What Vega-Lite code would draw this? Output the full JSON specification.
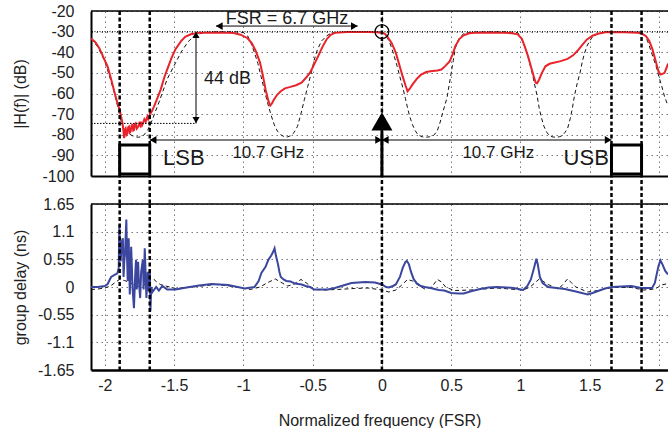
{
  "$schema": "https://vega.github.io/schema/vega-lite/v6.json",
  "padding": {"left": 11, "top": 3, "right": 0, "bottom": 0},
  "autosize": {"type": "pad"},
  "background": "white",
  "spacing": 28,
  "bounds": "flush",
  "config": {
    "font": "Liberation Sans",
    "view": {"stroke": null},
    "axis": {"labelFont": "Liberation Sans", "titleFont": "Liberation Sans", "labelFontSize": 16, "titleFontSize": 16, "labelColor": "#222", "titleColor": "#222", "titleFontWeight": "normal", "gridColor": "#777", "gridDash": [1.5, 3.5], "gridWidth": 1, "gridOpacity": 1, "ticks": false, "tickSize": 0, "domainColor": "#000", "domainWidth": 2, "labelFlush": false, "labelOverlap": false}
  },
  "datasets": {
    "mag_meas": [
      {"f":-2.10,"db":-33.4},{"f":-2.07,"db":-35},{"f":-2.04,"db":-38},{"f":-2.01,"db":-42.5},{"f":-1.98,"db":-47},{"f":-1.955,"db":-53},{"f":-1.93,"db":-59.5},{"f":-1.91,"db":-64.5},{"f":-1.895,"db":-67.5},{"f":-1.885,"db":-70.5},{"f":-1.873,"db":-74.3},{"f":-1.866,"db":-78},{"f":-1.861,"db":-81.6},{"f":-1.856,"db":-77.5},{"f":-1.85,"db":-76.9},{"f":-1.844,"db":-80},{"f":-1.838,"db":-79.4},{"f":-1.832,"db":-76.5},{"f":-1.826,"db":-76.1},{"f":-1.82,"db":-79},{"f":-1.814,"db":-78.5},{"f":-1.807,"db":-75.5},{"f":-1.80,"db":-75.2},{"f":-1.795,"db":-78},{"f":-1.79,"db":-77.8},{"f":-1.784,"db":-75},{"f":-1.778,"db":-74.5},{"f":-1.77,"db":-77},{"f":-1.76,"db":-76.1},{"f":-1.752,"db":-74.5},{"f":-1.745,"db":-75.5},{"f":-1.74,"db":-73.7},{"f":-1.732,"db":-75.5},{"f":-1.725,"db":-74.5},{"f":-1.715,"db":-72.5},{"f":-1.705,"db":-73.7},{"f":-1.698,"db":-72},{"f":-1.693,"db":-71.1},{"f":-1.686,"db":-72.5},{"f":-1.68,"db":-71.9},{"f":-1.674,"db":-69.5},{"f":-1.669,"db":-69.5},{"f":-1.66,"db":-68.5},{"f":-1.645,"db":-66.2},{"f":-1.62,"db":-62.1},{"f":-1.597,"db":-58.1},{"f":-1.57,"db":-52},{"f":-1.545,"db":-47.5},{"f":-1.52,"db":-43},{"f":-1.49,"db":-38.5},{"f":-1.45,"db":-34.6},{"f":-1.42,"db":-32.5},{"f":-1.38,"db":-31.3},{"f":-1.32,"db":-30.6},{"f":-1.26,"db":-30.5},{"f":-1.15,"db":-30.4},{"f":-1.07,"db":-30.7},{"f":-1.02,"db":-31.5},{"f":-0.97,"db":-33.2},{"f":-0.94,"db":-35.5},{"f":-0.91,"db":-39.5},{"f":-0.88,"db":-45},{"f":-0.86,"db":-51},{"f":-0.84,"db":-58},{"f":-0.82,"db":-63.5},{"f":-0.806,"db":-65.9},{"f":-0.795,"db":-65},{"f":-0.78,"db":-63},{"f":-0.755,"db":-60.5},{"f":-0.73,"db":-58.9},{"f":-0.70,"db":-57.5},{"f":-0.66,"db":-56.8},{"f":-0.62,"db":-56},{"f":-0.58,"db":-54.8},{"f":-0.55,"db":-52.5},{"f":-0.52,"db":-50},{"f":-0.49,"db":-46},{"f":-0.46,"db":-41.9},{"f":-0.43,"db":-37.5},{"f":-0.40,"db":-33.8},{"f":-0.37,"db":-31.5},{"f":-0.34,"db":-30.6},{"f":-0.25,"db":-30.2},{"f":-0.1,"db":-30.2},{"f":-0.04,"db":-30.3},{"f":0.0,"db":-30.5},{"f":0.02,"db":-31},{"f":0.04,"db":-32.5},{"f":0.07,"db":-35.5},{"f":0.10,"db":-40.2},{"f":0.125,"db":-46},{"f":0.149,"db":-51.6},{"f":0.17,"db":-56},{"f":0.185,"db":-58.9},{"f":0.2,"db":-57.8},{"f":0.22,"db":-55.7},{"f":0.25,"db":-53},{"f":0.28,"db":-51},{"f":0.32,"db":-49.6},{"f":0.35,"db":-49.2},{"f":0.40,"db":-48.8},{"f":0.43,"db":-48.4},{"f":0.46,"db":-46.5},{"f":0.49,"db":-44.3},{"f":0.51,"db":-41},{"f":0.53,"db":-37},{"f":0.56,"db":-33.5},{"f":0.59,"db":-31.8},{"f":0.63,"db":-30.8},{"f":0.67,"db":-30.5},{"f":0.8,"db":-30.4},{"f":0.88,"db":-30.5},{"f":0.94,"db":-30.8},{"f":0.98,"db":-31.3},{"f":1.01,"db":-33.5},{"f":1.03,"db":-37},{"f":1.055,"db":-42},{"f":1.075,"db":-46.8},{"f":1.095,"db":-51.5},{"f":1.11,"db":-54.8},{"f":1.12,"db":-55},{"f":1.135,"db":-53.2},{"f":1.155,"db":-50},{"f":1.18,"db":-46.8},{"f":1.21,"db":-45.6},{"f":1.24,"db":-45.1},{"f":1.29,"db":-44.3},{"f":1.34,"db":-43.2},{"f":1.38,"db":-41.5},{"f":1.41,"db":-39.4},{"f":1.445,"db":-36.5},{"f":1.48,"db":-33.8},{"f":1.52,"db":-32},{"f":1.56,"db":-31},{"f":1.62,"db":-30.2},{"f":1.75,"db":-30.3},{"f":1.845,"db":-30.5},{"f":1.88,"db":-31.2},{"f":1.905,"db":-32.1},{"f":1.93,"db":-34.5},{"f":1.953,"db":-38.6},{"f":1.975,"db":-44},{"f":1.995,"db":-49},{"f":2.01,"db":-50.8},{"f":2.025,"db":-50.5},{"f":2.04,"db":-50},{"f":2.055,"db":-47.5},{"f":2.065,"db":-45.5}
    ],
    "mag_sim": [
      {"f":-2.10,"db":-33.4},{"f":-2.05,"db":-37.5},{"f":-2.00,"db":-44.5},{"f":-1.96,"db":-53},{"f":-1.93,"db":-60},{"f":-1.905,"db":-67},{"f":-1.885,"db":-73.5},{"f":-1.86,"db":-77},{"f":-1.84,"db":-78.6},{"f":-1.81,"db":-80.2},{"f":-1.78,"db":-81},{"f":-1.755,"db":-81.2},{"f":-1.73,"db":-80.8},{"f":-1.71,"db":-79.5},{"f":-1.69,"db":-77.6},{"f":-1.675,"db":-75.5},{"f":-1.657,"db":-72.7},{"f":-1.64,"db":-69.5},{"f":-1.62,"db":-66.2},{"f":-1.6,"db":-62.5},{"f":-1.585,"db":-59.7},{"f":-1.55,"db":-53},{"f":-1.5,"db":-46.5},{"f":-1.45,"db":-40},{"f":-1.40,"db":-35},{"f":-1.36,"db":-32.3},{"f":-1.33,"db":-31.3},{"f":-1.28,"db":-30.4},{"f":-1.2,"db":-30.1},{"f":-1.05,"db":-30.1},{"f":-1.0,"db":-30.5},{"f":-0.969,"db":-32.1},{"f":-0.945,"db":-35.5},{"f":-0.92,"db":-40.2},{"f":-0.895,"db":-45.5},{"f":-0.873,"db":-51.6},{"f":-0.85,"db":-58},{"f":-0.825,"db":-64.6},{"f":-0.80,"db":-70.5},{"f":-0.777,"db":-75.2},{"f":-0.755,"db":-78.2},{"f":-0.73,"db":-80},{"f":-0.70,"db":-81.2},{"f":-0.68,"db":-81},{"f":-0.66,"db":-80.5},{"f":-0.635,"db":-79},{"f":-0.61,"db":-76},{"f":-0.585,"db":-70},{"f":-0.56,"db":-63},{"f":-0.535,"db":-56.5},{"f":-0.51,"db":-50},{"f":-0.49,"db":-44},{"f":-0.465,"db":-38.6},{"f":-0.435,"db":-34.5},{"f":-0.40,"db":-32.1},{"f":-0.37,"db":-30.9},{"f":-0.34,"db":-30.5},{"f":-0.2,"db":-30.1},{"f":-0.02,"db":-30.2},{"f":0.017,"db":-30.8},{"f":0.04,"db":-33},{"f":0.06,"db":-36},{"f":0.085,"db":-41},{"f":0.11,"db":-46.8},{"f":0.13,"db":-52},{"f":0.15,"db":-57},{"f":0.17,"db":-62.5},{"f":0.185,"db":-67},{"f":0.20,"db":-71},{"f":0.22,"db":-75},{"f":0.24,"db":-78},{"f":0.26,"db":-80},{"f":0.29,"db":-81},{"f":0.317,"db":-81.2},{"f":0.345,"db":-81},{"f":0.37,"db":-80.5},{"f":0.39,"db":-79},{"f":0.40,"db":-78},{"f":0.42,"db":-74},{"f":0.44,"db":-69},{"f":0.455,"db":-65.5},{"f":0.47,"db":-62},{"f":0.485,"db":-56},{"f":0.50,"db":-50},{"f":0.515,"db":-44},{"f":0.53,"db":-38},{"f":0.545,"db":-35},{"f":0.56,"db":-33},{"f":0.59,"db":-31},{"f":0.65,"db":-30.2},{"f":0.9,"db":-30.1},{"f":0.98,"db":-30.5},{"f":1.005,"db":-33},{"f":1.03,"db":-37},{"f":1.05,"db":-41},{"f":1.065,"db":-45},{"f":1.085,"db":-50},{"f":1.10,"db":-55},{"f":1.12,"db":-61},{"f":1.135,"db":-67},{"f":1.15,"db":-71.5},{"f":1.17,"db":-76},{"f":1.19,"db":-78.8},{"f":1.21,"db":-80.5},{"f":1.235,"db":-81.1},{"f":1.255,"db":-81.2},{"f":1.28,"db":-81},{"f":1.30,"db":-80.5},{"f":1.32,"db":-79},{"f":1.34,"db":-77},{"f":1.36,"db":-72},{"f":1.375,"db":-67},{"f":1.39,"db":-61},{"f":1.41,"db":-55},{"f":1.43,"db":-50},{"f":1.445,"db":-45},{"f":1.46,"db":-41},{"f":1.48,"db":-37},{"f":1.50,"db":-34.5},{"f":1.52,"db":-32.5},{"f":1.56,"db":-31},{"f":1.62,"db":-30.2},{"f":1.85,"db":-30.2},{"f":1.88,"db":-30.6},{"f":1.90,"db":-32},{"f":1.92,"db":-35},{"f":1.94,"db":-39},{"f":1.96,"db":-43},{"f":1.98,"db":-47},{"f":2.0,"db":-52},{"f":2.02,"db":-56.5},{"f":2.04,"db":-61.5},{"f":2.065,"db":-66}
    ],
    "gd_meas": [
      {"f":-2.10,"gd":0.0},{"f":-2.05,"gd":0.0},{"f":-2.0,"gd":0.02},{"f":-1.98,"gd":0.06},{"f":-1.955,"gd":0.2},{"f":-1.93,"gd":0.24},{"f":-1.91,"gd":0.27},{"f":-1.90,"gd":0.38},{"f":-1.895,"gd":1.24},{"f":-1.89,"gd":0.6},{"f":-1.886,"gd":0.51},{"f":-1.878,"gd":0.9},{"f":-1.87,"gd":0.97},{"f":-1.865,"gd":0.2},{"f":-1.86,"gd":0.5},{"f":-1.855,"gd":0.64},{"f":-1.845,"gd":1.34},{"f":-1.84,"gd":0.6},{"f":-1.835,"gd":0.12},{"f":-1.828,"gd":0.97},{"f":-1.82,"gd":-0.15},{"f":-1.81,"gd":0.8},{"f":-1.80,"gd":-0.02},{"f":-1.79,"gd":-0.42},{"f":-1.78,"gd":0.3},{"f":-1.775,"gd":0.54},{"f":-1.77,"gd":-0.05},{"f":-1.76,"gd":0.5},{"f":-1.755,"gd":0.15},{"f":-1.745,"gd":-0.22},{"f":-1.738,"gd":0.3},{"f":-1.726,"gd":0.54},{"f":-1.72,"gd":-0.05},{"f":-1.712,"gd":0.77},{"f":-1.70,"gd":-0.22},{"f":-1.69,"gd":0.3},{"f":-1.685,"gd":-0.08},{"f":-1.675,"gd":0.35},{"f":-1.671,"gd":-0.48},{"f":-1.665,"gd":0.0},{"f":-1.656,"gd":-0.1},{"f":-1.63,"gd":0.0},{"f":-1.61,"gd":-0.07},{"f":-1.585,"gd":0.02},{"f":-1.55,"gd":-0.05},{"f":-1.49,"gd":-0.05},{"f":-1.41,"gd":-0.01},{"f":-1.32,"gd":0.03},{"f":-1.23,"gd":0.06},{"f":-1.11,"gd":0.04},{"f":-0.99,"gd":-0.03},{"f":-0.92,"gd":0.0},{"f":-0.89,"gd":0.12},{"f":-0.87,"gd":0.28},{"f":-0.84,"gd":0.4},{"f":-0.82,"gd":0.54},{"f":-0.80,"gd":0.62},{"f":-0.785,"gd":0.7},{"f":-0.775,"gd":0.77},{"f":-0.765,"gd":0.62},{"f":-0.75,"gd":0.45},{"f":-0.74,"gd":0.3},{"f":-0.73,"gd":0.2},{"f":-0.71,"gd":0.15},{"f":-0.69,"gd":0.12},{"f":-0.66,"gd":0.11},{"f":-0.63,"gd":0.07},{"f":-0.6,"gd":0.06},{"f":-0.58,"gd":0.05},{"f":-0.55,"gd":0.02},{"f":-0.52,"gd":0.0},{"f":-0.49,"gd":-0.05},{"f":-0.44,"gd":-0.05},{"f":-0.39,"gd":-0.05},{"f":-0.34,"gd":-0.02},{"f":-0.28,"gd":0.03},{"f":-0.22,"gd":0.08},{"f":-0.12,"gd":0.1},{"f":-0.05,"gd":0.09},{"f":0.0,"gd":0.05},{"f":0.03,"gd":0.0},{"f":0.05,"gd":-0.01},{"f":0.08,"gd":0.02},{"f":0.1,"gd":0.05},{"f":0.13,"gd":0.2},{"f":0.15,"gd":0.38},{"f":0.17,"gd":0.5},{"f":0.18,"gd":0.52},{"f":0.195,"gd":0.45},{"f":0.21,"gd":0.3},{"f":0.23,"gd":0.15},{"f":0.25,"gd":0.08},{"f":0.28,"gd":0.02},{"f":0.31,"gd":0.0},{"f":0.35,"gd":-0.02},{"f":0.41,"gd":-0.06},{"f":0.45,"gd":-0.07},{"f":0.5,"gd":-0.12},{"f":0.55,"gd":-0.13},{"f":0.59,"gd":-0.13},{"f":0.65,"gd":-0.08},{"f":0.71,"gd":-0.04},{"f":0.77,"gd":-0.01},{"f":0.83,"gd":0.0},{"f":0.9,"gd":-0.01},{"f":0.95,"gd":-0.02},{"f":1.02,"gd":-0.06},{"f":1.05,"gd":0.02},{"f":1.075,"gd":0.15},{"f":1.095,"gd":0.35},{"f":1.115,"gd":0.56},{"f":1.125,"gd":0.45},{"f":1.14,"gd":0.2},{"f":1.16,"gd":0.08},{"f":1.2,"gd":0.0},{"f":1.26,"gd":-0.02},{"f":1.32,"gd":-0.04},{"f":1.4,"gd":-0.09},{"f":1.485,"gd":-0.15},{"f":1.52,"gd":-0.12},{"f":1.56,"gd":-0.08},{"f":1.61,"gd":-0.03},{"f":1.66,"gd":0.0},{"f":1.73,"gd":0.01},{"f":1.8,"gd":0.02},{"f":1.87,"gd":-0.02},{"f":1.95,"gd":-0.02},{"f":1.97,"gd":0.08},{"f":1.98,"gd":0.21},{"f":1.995,"gd":0.4},{"f":2.01,"gd":0.53},{"f":2.025,"gd":0.45},{"f":2.045,"gd":0.32},{"f":2.065,"gd":0.25}
    ],
    "gd_sim": [
      {"f":-2.10,"gd":-0.05},{"f":-2.05,"gd":-0.04},{"f":-2.0,"gd":-0.02},{"f":-1.96,"gd":0.02},{"f":-1.93,"gd":0.08},{"f":-1.895,"gd":0.15},{"f":-1.86,"gd":0.13},{"f":-1.83,"gd":0.1},{"f":-1.8,"gd":0.06},{"f":-1.78,"gd":0.03},{"f":-1.74,"gd":0.0},{"f":-1.71,"gd":0.06},{"f":-1.685,"gd":0.13},{"f":-1.665,"gd":0.17},{"f":-1.645,"gd":0.15},{"f":-1.63,"gd":0.11},{"f":-1.6,"gd":0.05},{"f":-1.56,"gd":0.02},{"f":-1.49,"gd":-0.03},{"f":-1.4,"gd":-0.01},{"f":-1.3,"gd":0.02},{"f":-1.2,"gd":0.05},{"f":-1.1,"gd":0.02},{"f":-0.95,"gd":-0.05},{"f":-0.88,"gd":0.0},{"f":-0.83,"gd":0.08},{"f":-0.77,"gd":0.16},{"f":-0.72,"gd":0.08},{"f":-0.68,"gd":0.02},{"f":-0.64,"gd":0.05},{"f":-0.584,"gd":0.15},{"f":-0.54,"gd":0.07},{"f":-0.49,"gd":-0.05},{"f":-0.42,"gd":-0.06},{"f":-0.33,"gd":-0.05},{"f":-0.2,"gd":-0.03},{"f":-0.1,"gd":-0.02},{"f":0.0,"gd":-0.06},{"f":0.05,"gd":-0.1},{"f":0.1,"gd":-0.06},{"f":0.14,"gd":0.03},{"f":0.185,"gd":0.15},{"f":0.22,"gd":0.12},{"f":0.26,"gd":0.04},{"f":0.31,"gd":-0.04},{"f":0.36,"gd":0.0},{"f":0.40,"gd":0.15},{"f":0.43,"gd":0.1},{"f":0.46,"gd":0.0},{"f":0.52,"gd":-0.07},{"f":0.64,"gd":-0.06},{"f":0.83,"gd":-0.02},{"f":0.97,"gd":-0.05},{"f":1.02,"gd":-0.06},{"f":1.07,"gd":0.0},{"f":1.136,"gd":0.16},{"f":1.2,"gd":0.05},{"f":1.27,"gd":-0.04},{"f":1.30,"gd":0.03},{"f":1.34,"gd":0.16},{"f":1.37,"gd":0.08},{"f":1.40,"gd":0.0},{"f":1.485,"gd":-0.1},{"f":1.56,"gd":-0.07},{"f":1.66,"gd":-0.01},{"f":1.8,"gd":-0.01},{"f":1.89,"gd":-0.06},{"f":1.97,"gd":-0.04},{"f":2.02,"gd":0.04},{"f":2.065,"gd":0.07}
    ],
    "markers": [{"f":-1.893},{"f":-1.676},{"f":0},{"f":1.657},{"f":1.874}]
  },
  "vconcat": [
    {
      "width": 577,
      "height": 165,
      "layer": [
        {
          "data": {"name": "mag_sim"},
          "mark": {"type": "line", "color": "#111", "strokeWidth": 1, "strokeDash": [4, 3], "clip": true},
          "encoding": {
            "x": {"field": "f", "type": "quantitative", "scale": {"domain": [-2.1, 2.065], "nice": false, "zero": false},
                  "axis": {"values": [-2, -1.5, -1, -0.5, 0, 0.5, 1, 1.5, 2], "tickCount": 30, "labels": false, "title": null, "grid": true, "domainWidth": 2, "labelOverlap": false}},
            "y": {"field": "db", "type": "quantitative", "scale": {"domain": [-100, -20], "nice": false, "zero": false},
                  "axis": {"values": [-100, -90, -80, -70, -60, -50, -40, -30, -20], "tickCount": 30, "labelExpr": "'' + datum.value", "title": "|H(f)| (dB)", "titleX": -63, "labelPadding": 17, "grid": true, "labelOverlap": false}}
          }
        },
        {
          "data": {"name": "mag_meas"},
          "mark": {"type": "line", "color": "#e8232a", "strokeWidth": 2, "clip": true},
          "encoding": {"x": {"field": "f", "type": "quantitative"}, "y": {"field": "db", "type": "quantitative"}}
        },
        {
          "data": {"values": [{}]},
          "mark": {"type": "rule", "color": "#000", "strokeWidth": 1, "strokeDash": [1, 1.5]},
          "encoding": {"y": {"datum": -30}}
        },
        {
          "data": {"values": [{}]},
          "mark": {"type": "rule", "color": "#000", "strokeWidth": 1, "strokeDash": [1.5, 1.5]},
          "encoding": {"x": {"datum": -2.1}, "x2": {"datum": -1.342}, "y": {"datum": -74.5}}
        },
        {
          "data": {"values": [{}]},
          "mark": {"type": "rule", "color": "#000", "strokeWidth": 1.5},
          "encoding": {"y": {"datum": -20}}
        },
        {
          "data": {"name": "markers"},
          "mark": {"type": "rule", "color": "#000", "strokeWidth": 2.5, "strokeDash": [4, 2.5]},
          "encoding": {"x": {"field": "f", "type": "quantitative"}, "y": {"datum": -20}, "y2": {"datum": -113.6}}
        },
        {
          "data": {"values": [{"a": -1.676, "b": 0}, {"a": 0, "b": 1.657}]},
          "mark": {"type": "rule", "color": "#555", "strokeWidth": 1.5},
          "encoding": {"x": {"field": "a", "type": "quantitative"}, "x2": {"field": "b"}, "y": {"datum": -82.5}}
        },
        {
          "data": {"values": [{"x1": -1.198, "x2": -0.175, "y1": -27.3, "y2": -27.3}, {"x1": -1.342, "x2": -1.342, "y1": -30, "y2": -74.5}]},
          "mark": {"type": "rule", "color": "#000", "strokeWidth": 1},
          "encoding": {"x": {"field": "x1", "type": "quantitative"}, "x2": {"field": "x2"}, "y": {"field": "y1", "type": "quantitative"}, "y2": {"field": "y2"}}
        },
        {
          "data": {"values": [{"f": -1.652, "db": -82.5}, {"f": 0.024, "db": -82.5}, {"f": -1.174, "db": -27.3}]},
          "mark": {"type": "point", "shape": "triangle-left", "filled": true, "color": "#000", "opacity": 1, "size": 60},
          "encoding": {"x": {"field": "f", "type": "quantitative"}, "y": {"field": "db", "type": "quantitative"}}
        },
        {
          "data": {"values": [{"f": -0.024, "db": -82.5}, {"f": 1.633, "db": -82.5}, {"f": -0.199, "db": -27.3}]},
          "mark": {"type": "point", "shape": "triangle-right", "filled": true, "color": "#000", "opacity": 1, "size": 60},
          "encoding": {"x": {"field": "f", "type": "quantitative"}, "y": {"field": "db", "type": "quantitative"}}
        },
        {
          "data": {"values": [{"f": -1.342, "db": -31.6}]},
          "mark": {"type": "point", "shape": "triangle-up", "filled": true, "color": "#000", "opacity": 1, "size": 50},
          "encoding": {"x": {"field": "f", "type": "quantitative"}, "y": {"field": "db", "type": "quantitative"}}
        },
        {
          "data": {"values": [{"f": -1.342, "db": -72.9}]},
          "mark": {"type": "point", "shape": "triangle-down", "filled": true, "color": "#000", "opacity": 1, "size": 50},
          "encoding": {"x": {"field": "f", "type": "quantitative"}, "y": {"field": "db", "type": "quantitative"}}
        },
        {
          "data": {"values": [{"f1": -1.893, "f2": -1.676}, {"f1": 1.657, "f2": 1.874}]},
          "mark": {"type": "rect", "fill": "white", "stroke": "#000", "strokeWidth": 3},
          "encoding": {"x": {"field": "f1", "type": "quantitative"}, "x2": {"field": "f2"}, "y": {"datum": -85}, "y2": {"datum": -99}}
        },
        {
          "data": {"values": [{}]},
          "mark": {"type": "rule", "color": "#000", "strokeWidth": 3},
          "encoding": {"x": {"datum": 0}, "y": {"datum": -78.4}, "y2": {"datum": -100}}
        },
        {
          "data": {"values": [{}]},
          "mark": {"type": "point", "shape": "triangle-up", "filled": true, "color": "#000", "opacity": 1, "size": 440},
          "encoding": {"x": {"datum": 0}, "y": {"datum": -73.5}}
        },
        {
          "data": {"values": [{}]},
          "mark": {"type": "point", "shape": "circle", "filled": false, "color": "#000", "opacity": 1, "strokeWidth": 1.2, "size": 190},
          "encoding": {"x": {"datum": 0}, "y": {"datum": -30}}
        },
        {
          "data": {"values": [{}]},
          "mark": {"type": "text", "text": "FSR = 6.7 GHz", "fontSize": 18, "align": "center", "baseline": "middle", "color": "#1a1a1a"},
          "encoding": {"x": {"datum": -0.685}, "y": {"datum": -24}}
        },
        {
          "data": {"values": [{}]},
          "mark": {"type": "text", "text": "44 dB", "fontSize": 18, "align": "left", "baseline": "middle", "color": "#1a1a1a"},
          "encoding": {"x": {"datum": -1.284}, "y": {"datum": -53.2}}
        },
        {
          "data": {"values": [{}]},
          "mark": {"type": "text", "text": "10.7 GHz", "fontSize": 17, "align": "center", "baseline": "middle", "color": "#1a1a1a"},
          "encoding": {"x": {"datum": -0.82}, "y": {"datum": -88.8}}
        },
        {
          "data": {"values": [{}]},
          "mark": {"type": "text", "text": "10.7 GHz", "fontSize": 17, "align": "center", "baseline": "middle", "color": "#1a1a1a"},
          "encoding": {"x": {"datum": 0.84}, "y": {"datum": -88.8}}
        },
        {
          "data": {"values": [{}]},
          "mark": {"type": "text", "text": "LSB", "fontSize": 22, "align": "left", "baseline": "middle", "color": "#1a1a1a"},
          "encoding": {"x": {"datum": -1.58}, "y": {"datum": -91.2}}
        },
        {
          "data": {"values": [{}]},
          "mark": {"type": "text", "text": "USB", "fontSize": 22, "align": "right", "baseline": "middle", "color": "#1a1a1a"},
          "encoding": {"x": {"datum": 1.638}, "y": {"datum": -91.2}}
        }
      ]
    },
    {
      "width": 577,
      "height": 166,
      "layer": [
        {
          "data": {"name": "gd_sim"},
          "mark": {"type": "line", "color": "#111", "strokeWidth": 1, "strokeDash": [4, 3], "clip": true},
          "encoding": {
            "x": {"field": "f", "type": "quantitative", "scale": {"domain": [-2.1, 2.065], "nice": false, "zero": false},
                  "axis": {"values": [-2, -1.5, -1, -0.5, 0, 0.5, 1, 1.5, 2], "tickCount": 30, "labelExpr": "'' + datum.value", "title": "Normalized frequency (FSR)", "labelPadding": 7, "titlePadding": 19, "grid": true, "domainWidth": 2.5, "labelOverlap": false}},
            "y": {"field": "gd", "type": "quantitative", "scale": {"domain": [-1.65, 1.65], "nice": false, "zero": false},
                  "axis": {"values": [-1.65, -1.1, -0.55, 0, 0.55, 1.1, 1.65], "tickCount": 30, "labelExpr": "'' + datum.value", "title": "group delay (ns)", "titleX": -63, "labelPadding": 17, "grid": true, "labelOverlap": false}}
          }
        },
        {
          "data": {"name": "gd_meas"},
          "mark": {"type": "line", "color": "#3b469e", "strokeWidth": 2, "clip": true},
          "encoding": {"x": {"field": "f", "type": "quantitative"}, "y": {"field": "gd", "type": "quantitative"}}
        },
        {
          "data": {"name": "markers"},
          "mark": {"type": "rule", "color": "#000", "strokeWidth": 2.5, "strokeDash": [4, 2.5]},
          "encoding": {"x": {"field": "f", "type": "quantitative"}, "y": {"datum": 1.65}, "y2": {"datum": -1.65}}
        },
        {
          "data": {"values": [{}]},
          "mark": {"type": "rule", "color": "#000", "strokeWidth": 1.5},
          "encoding": {"y": {"datum": 1.65}}
        }
      ]
    }
  ]
}
